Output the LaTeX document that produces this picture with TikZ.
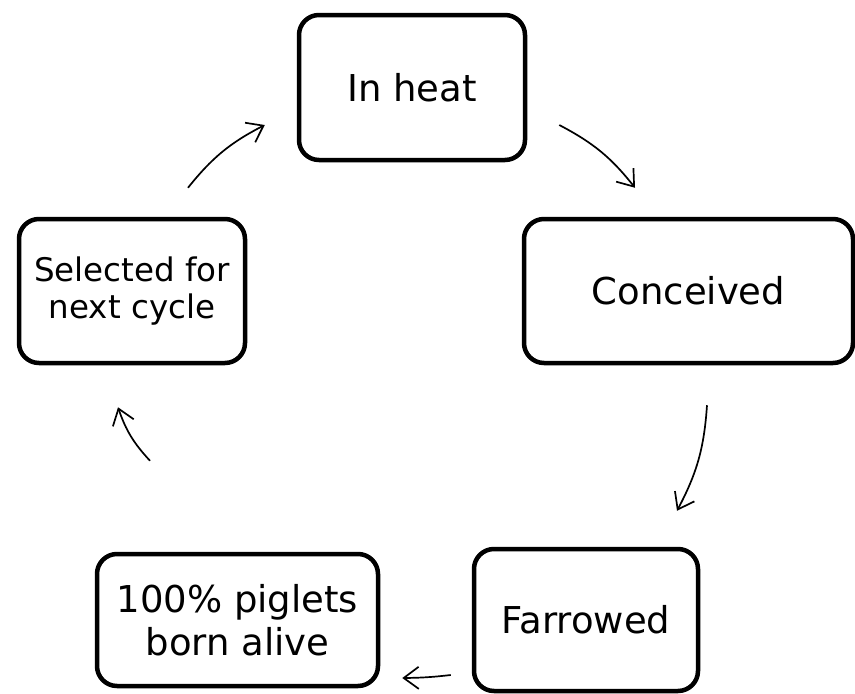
\documentclass[tikz,border=0pt]{standalone}
\usepackage{fontspec}
\setmainfont{DejaVu Sans}
\usetikzlibrary{arrows.meta}

\begin{document}
\begin{tikzpicture}[x=1pt, y=1pt, ->,
            >={Straight Barb[length=15pt,width=22pt]},
            box/.style = {draw,line width=4.5pt,rounded corners=20pt,
                align=center,inner sep=0pt,
                font=\fontsize{37}{43}\selectfont},
            smallbox/.style = {box,font=\fontsize{32.5}{37}\selectfont},
            link/.style = {line width=1.7pt}]
            \useasboundingbox (0,0) rectangle (855,-694);
            \node[box,minimum width=226pt,minimum height=145pt] (heat) at (412,-87.5) {In heat};
            \node[box,minimum width=329pt,minimum height=144pt] (conc) at (688.5,-291) {Conceived};
            \node[box,minimum width=224pt,minimum height=142pt] (farr) at (586,-620) {Farrowed};
            \node[box,minimum width=281pt,minimum height=132pt] (born) at (237.5,-620) {100\% piglets\\born alive};
            \node[smallbox,minimum width=226pt,minimum height=144pt] (sel) at (132,-291) {Selected for\\next cycle};
            \path
                ([shift={(32,-37.5)}]heat.east) edge[link,bend left=12] ([shift={(-53.5,29)}]conc.north)
                ([shift={(18.5,-40)}]conc.south) edge[link,bend left=12] ([shift={(91,36)}]farr.north)
                ([shift={(-21,-55)}]farr.west) edge[link,bend left=3] ([shift={(22,-58)}]born.east)
                ([shift={(-87.5,91)}]born.north) edge[link,bend left=12] ([shift={(-14,-42)}]sel.south)
                ([shift={(56,29)}]sel.north) edge[link,bend left=12] ([shift={(-32,-37.5)}]heat.west);
        \end{tikzpicture}
\end{document}
